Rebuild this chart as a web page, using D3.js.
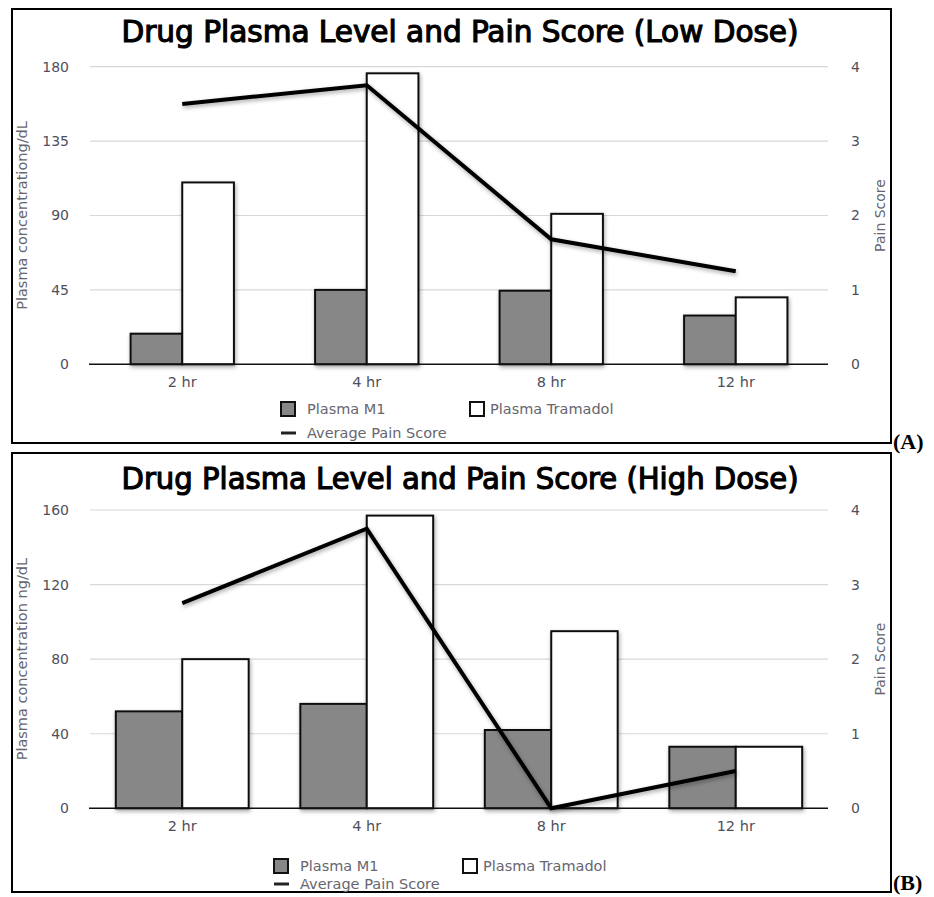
<!DOCTYPE html>
<html>
<head>
<meta charset="utf-8">
<script src="https://cdn.jsdelivr.net/npm/d3@7"></script>
<style>
  html, body { margin: 0; padding: 0; background: #fff; }
  svg { display: block; }
  text { font-family: "DejaVu Sans", sans-serif; }
</style>
</head>
<body>
<svg id="chart" width="934" height="897"></svg>
<script>
// ---------- DATA ----------
const categories = ["2 hr", "4 hr", "8 hr", "12 hr"];
const lowM1 = [18.5, 45, 44.5, 29.5];
const lowTramadol = [110, 176, 91, 40.5];
const lowPain = [3.5, 3.75, 1.68, 1.25];
const highM1 = [52, 56, 42, 33];
const highTramadol = [80, 157, 95, 33];
const highPain = [2.75, 3.75, 0, 0.5];
const lowTicks = [0, 45, 90, 135, 180];
const highTicks = [0, 40, 80, 120, 160];
const painTicks = [0, 1, 2, 3, 4];
const seriesNames = ["Plasma M1", "Plasma Tramadol", "Average Pain Score"];

const panels = [
  {
    title: "Drug Plasma Level and Pain Score (Low Dose)",
    yTitle: "Plasma concentrationg/dL",
    tag: "(A)",
    m1: lowM1, tram: lowTramadol, pain: lowPain, ticks: lowTicks,
    frame: { x: 12, y: 9, w: 879, h: 434 },
    plot: { top: 66.7, bottom: 364.3 },
    titleY: 42, padInner: 0.44,
    legend: { x: 281, row1: 409, row2: 433 },
    tagY: 449
  },
  {
    title: "Drug Plasma Level and Pain Score (High Dose)",
    yTitle: "Plasma concentration ng/dL",
    tag: "(B)",
    m1: highM1, tram: highTramadol, pain: highPain, ticks: highTicks,
    frame: { x: 12, y: 453, w: 879, h: 439 },
    plot: { top: 510, bottom: 808.3 },
    titleY: 489, padInner: 0.28,
    legend: { x: 274, row1: 866, row2: 884 },
    tagY: 890
  }
];

const svg = d3.select("#chart");
const defs = svg.append("defs");
const sh = defs.append("filter").attr("id", "shadow")
  .attr("x", "-20%").attr("y", "-20%").attr("width", "150%").attr("height", "150%");
sh.append("feDropShadow").attr("dx", 1).attr("dy", 2).attr("stdDeviation", 2)
  .attr("flood-color", "#000").attr("flood-opacity", 0.35);

const plotLeft = 90, plotRight = 828;
const tickColor = "#4f4f5c";
const textGray = "#666670";
const fs = 14;

panels.forEach(p => {
  const g = svg.append("g");
  // frame
  g.append("rect")
    .attr("x", p.frame.x).attr("y", p.frame.y)
    .attr("width", p.frame.w).attr("height", p.frame.h)
    .attr("fill", "#fff").attr("stroke", "#000").attr("stroke-width", 2);

  // title
  g.append("text")
    .attr("x", 460).attr("y", p.titleY)
    .attr("text-anchor", "middle")
    .attr("font-size", 30)
    .attr("textLength", 677).attr("lengthAdjust", "spacingAndGlyphs")
    .style("font-family", "'DejaVu Sans Condensed', sans-serif")
    .attr("fill", "#000").attr("stroke", "#000").attr("stroke-width", 1.1)
    .text(p.title);

  const x = d3.scaleBand().domain(categories)
    .range([plotLeft, plotRight])
    .paddingInner(p.padInner).paddingOuter(p.padInner / 2);
  const xs = d3.scaleBand().domain(["m1", "tram"]).range([0, x.bandwidth()]);
  const yL = d3.scaleLinear().domain([0, p.ticks[p.ticks.length - 1]])
    .range([p.plot.bottom, p.plot.top]);
  const yR = d3.scaleLinear().domain([0, 4]).range([p.plot.bottom, p.plot.top]);

  // gridlines
  g.append("g").selectAll("line").data(p.ticks.slice(1)).join("line")
    .attr("x1", plotLeft).attr("x2", plotRight)
    .attr("y1", d => yL(d)).attr("y2", d => yL(d))
    .attr("stroke", "#d8d8d8").attr("stroke-width", 1.2);

  // left axis
  const axL = g.append("g").attr("transform", `translate(${plotLeft},0)`)
    .call(d3.axisLeft(yL).tickValues(p.ticks).tickSize(0).tickPadding(21).tickFormat(d3.format("d")));
  axL.select(".domain").remove();
  axL.selectAll("text").attr("font-size", fs).attr("fill", tickColor)
    .style("font-family", "'DejaVu Sans', sans-serif");

  // right axis
  const axR = g.append("g").attr("transform", `translate(${plotRight},0)`)
    .call(d3.axisRight(yR).tickValues(painTicks).tickSize(0).tickPadding(23).tickFormat(d3.format("d")));
  axR.select(".domain").remove();
  axR.selectAll("text").attr("font-size", fs).attr("fill", tickColor)
    .style("font-family", "'DejaVu Sans', sans-serif");

  // axis titles
  const midY = (p.plot.top + p.plot.bottom) / 2;
  g.append("text")
    .attr("transform", `translate(27,${midY}) rotate(-90)`)
    .attr("text-anchor", "middle").attr("font-size", 14.5).attr("fill", textGray)
    .text(p.yTitle);
  g.append("text")
    .attr("transform", `translate(885,${midY}) rotate(-90)`)
    .attr("text-anchor", "middle").attr("font-size", 14).attr("fill", textGray)
    .text("Pain Score");

  // bars
  const bars = g.append("g").attr("filter", "url(#shadow)");
  bars.selectAll("rect.m1").data(categories).join("rect")
    .attr("class", "m1")
    .attr("x", (d) => x(d) + xs("m1"))
    .attr("width", xs.bandwidth())
    .attr("y", (d, i) => yL(p.m1[i]))
    .attr("height", (d, i) => yL(0) - yL(p.m1[i]))
    .attr("fill", "#878787").attr("stroke", "#111").attr("stroke-width", 2);
  bars.selectAll("rect.tram").data(categories).join("rect")
    .attr("class", "tram")
    .attr("x", (d) => x(d) + xs("tram"))
    .attr("width", xs.bandwidth())
    .attr("y", (d, i) => yL(p.tram[i]))
    .attr("height", (d, i) => yL(0) - yL(p.tram[i]))
    .attr("fill", "#fff").attr("stroke", "#111").attr("stroke-width", 2);

  // baseline
  g.append("line")
    .attr("x1", plotLeft - 1).attr("x2", plotRight)
    .attr("y1", yL(0)).attr("y2", yL(0))
    .attr("stroke", "#111").attr("stroke-width", 1.6);

  // x axis labels
  const axB = g.append("g").attr("transform", `translate(0,${yL(0)})`)
    .call(d3.axisBottom(x).tickSize(0).tickPadding(12));
  axB.select(".domain").remove();
  axB.selectAll("text").attr("font-size", 14.5).attr("fill", tickColor)
    .style("font-family", "'DejaVu Sans', sans-serif");

  // pain line
  const line = d3.line()
    .x((d, i) => x(categories[i]) + x.bandwidth() / 2)
    .y(d => yR(d));
  g.append("path").datum(p.pain)
    .attr("d", line)
    .attr("fill", "none").attr("stroke", "#000")
    .attr("stroke-width", 4).attr("stroke-linejoin", "miter")
    .attr("filter", "url(#shadow)");

  // legend
  const L = p.legend;
  g.append("rect").attr("x", L.x).attr("y", L.row1 - 7).attr("width", 14).attr("height", 14)
    .attr("fill", "#878787").attr("stroke", "#111").attr("stroke-width", 2);
  g.append("text").attr("x", L.x + 26).attr("y", L.row1 + 5)
    .attr("font-size", 14.5).attr("fill", textGray).text(seriesNames[0]);
  g.append("rect").attr("x", L.x + 189).attr("y", L.row1 - 7).attr("width", 14).attr("height", 14)
    .attr("fill", "#fff").attr("stroke", "#111").attr("stroke-width", 2);
  g.append("text").attr("x", L.x + 209).attr("y", L.row1 + 5)
    .attr("font-size", 14.5).attr("fill", textGray).text(seriesNames[1]);
  g.append("line").attr("x1", L.x).attr("x2", L.x + 15)
    .attr("y1", L.row2).attr("y2", L.row2)
    .attr("stroke", "#222").attr("stroke-width", 3);
  g.append("text").attr("x", L.x + 26).attr("y", L.row2 + 5)
    .attr("font-size", 14.5).attr("fill", textGray).text(seriesNames[2]);

  // panel tag
  svg.append("text").attr("x", 893).attr("y", p.tagY)
    .attr("font-size", 22).attr("font-weight", "bold")
    .style("font-family", "'Liberation Serif', 'Times New Roman', serif")
    .attr("fill", "#000").text(p.tag);
});
</script>
</body>
</html>
